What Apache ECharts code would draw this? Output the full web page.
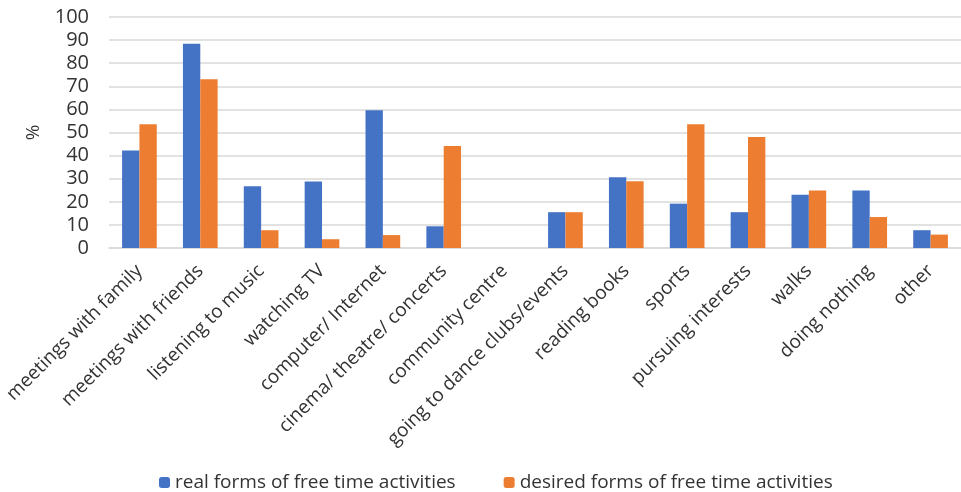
<!DOCTYPE html>
<html>
<head>
<meta charset="utf-8">
<script src="https://cdn.jsdelivr.net/npm/echarts@6/dist/echarts.min.js"></script>
<style>
  html, body { margin: 0; padding: 0; background: #fff; }
  #chart { width: 961px; height: 492px; }
</style>
</head>
<body>
<div id="chart"></div>
<script>
const categories = [
  "meetings with family", "meetings with friends", "listening to music", "watching TV",
  "computer/ Internet", "cinema/ theatre/ concerts", "community centre",
  "going to dance clubs/events", "reading books", "sports", "pursuing interests",
  "walks", "doing nothing", "other"
];
const realValues = [42.2, 88.4, 26.7, 28.8, 59.6, 9.4, 0, 15.5, 30.6, 19.2, 15.5, 23.0, 24.9, 7.7];
const desiredValues = [53.6, 73.0, 7.7, 3.8, 5.6, 44.2, 0, 15.5, 28.9, 53.6, 48.0, 24.9, 13.4, 5.8];
const seriesNames = ["real forms of free time activities", "desired forms of free time activities"];

const font = "'Open Sans', 'Liberation Sans', sans-serif";
const chart = echarts.init(document.getElementById("chart"));
chart.setOption({
  animation: false,
  textStyle: { fontFamily: font },
  legend: {
    top: 468,
    left: 154,
    itemWidth: 11,
    itemHeight: 11,
    itemGap: 48,
    textStyle: { fontSize: 19, color: "#333", fontFamily: font },
    data: seriesNames
  },
  grid: { left: 109, top: 17, bottom: 244, width: 860 },
  xAxis: {
    type: "category",
    data: categories,
    axisLine: { lineStyle: { color: "#d9d9d9", width: 1.5 } },
    axisTick: { show: false },
    axisLabel: { rotate: 45, interval: 0, fontSize: 19, color: "#333", margin: 20, fontFamily: font }
  },
  yAxis: {
    type: "value",
    min: 0,
    max: 100,
    interval: 10,
    name: "%",
    nameLocation: "middle",
    nameRotate: 90,
    nameGap: 66,
    nameTextStyle: { fontSize: 19, color: "#333", fontFamily: font },
    axisLabel: { fontSize: 20, color: "#333", margin: 20, fontFamily: font },
    splitLine: { lineStyle: { color: "#d9d9d9", width: 1.5 } }
  },
  series: [
    {
      name: seriesNames[0],
      type: "bar",
      data: realValues,
      barGap: "0%",
      barCategoryGap: "43%",
      itemStyle: { color: "#4472c4" }
    },
    {
      name: seriesNames[1],
      type: "bar",
      data: desiredValues,
      barGap: "0%",
      barCategoryGap: "43%",
      itemStyle: { color: "#ed7d31" }
    }
  ]
});
</script>
</body>
</html>
